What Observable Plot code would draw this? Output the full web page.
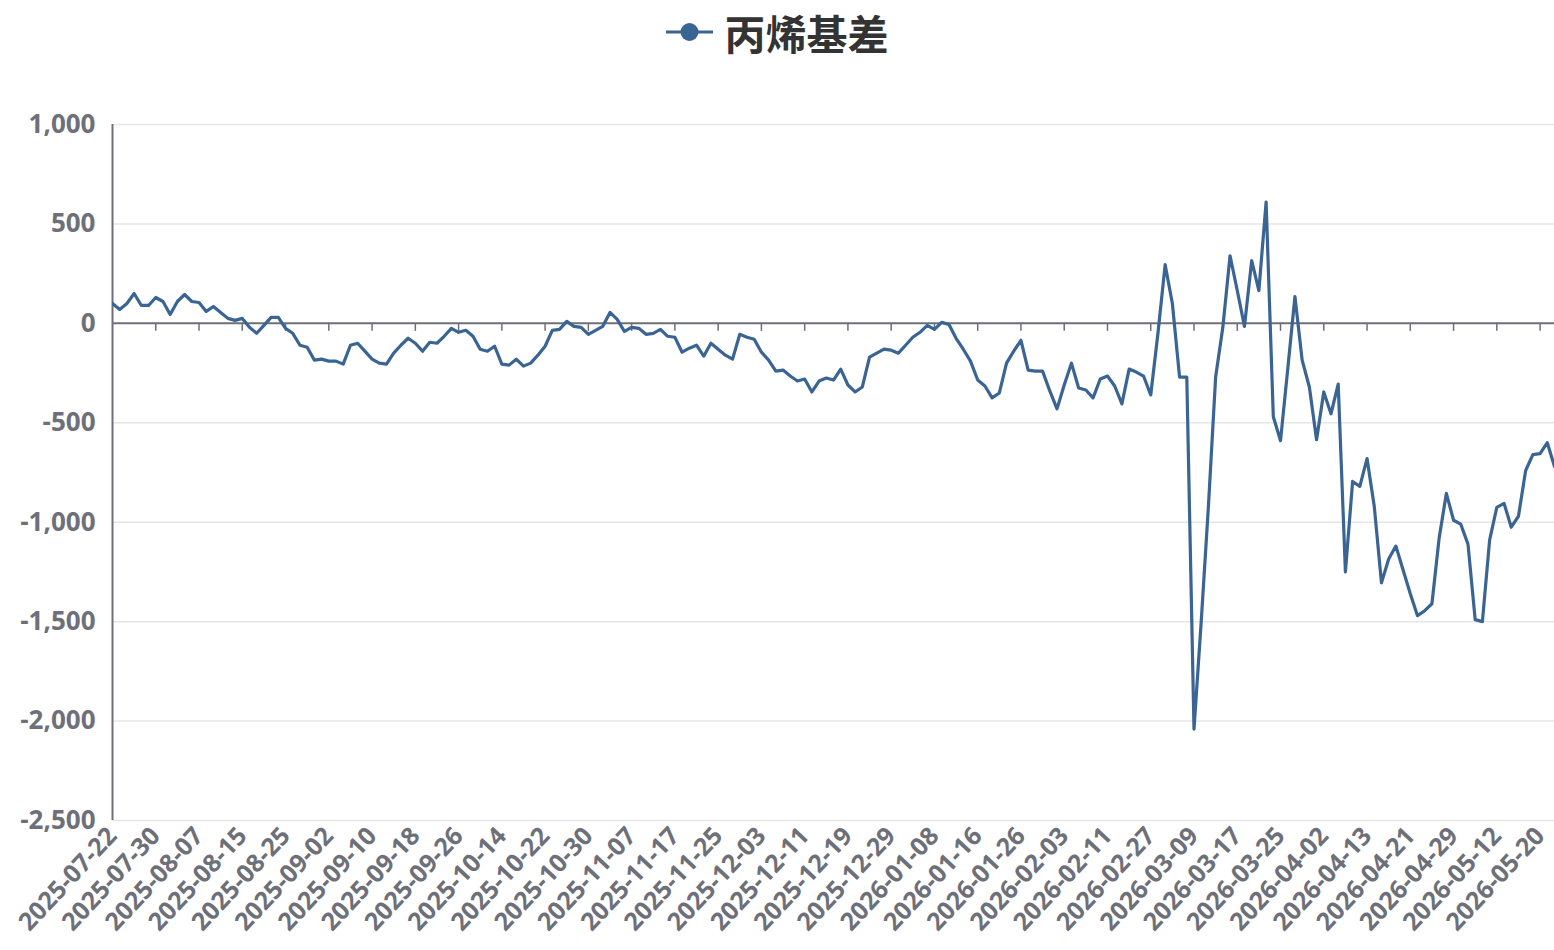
<!DOCTYPE html>
<html><head><meta charset="utf-8">
<script src="https://cdn.jsdelivr.net/npm/d3@7"></script>
<script src="https://cdn.jsdelivr.net/npm/@observablehq/plot@0.6"></script>
<style>
body{margin:0;background:#fff;}
#legend{height:64px;display:flex;align-items:center;justify-content:center;gap:12px;font-family:"Noto Sans CJK SC",sans-serif;font-size:41px;font-weight:700;color:#333;}
#legend span{line-height:1;}
</style></head><body>
<div id="legend"><svg width="47" height="20"><line x1="0" y1="10" x2="47" y2="10" stroke="#3a6494" stroke-width="3"/><circle cx="23.5" cy="10" r="9" fill="#3a6494"/></svg><span>丙烯基差</span></div>
<div id="chart"></div>
<script>
const seriesName = "丙烯基差";
const dates = [
"2025-07-22","2025-07-23","2025-07-24","2025-07-25","2025-07-28","2025-07-29","2025-07-30","2025-07-31",
"2025-08-01","2025-08-04","2025-08-05","2025-08-06","2025-08-07","2025-08-08","2025-08-11","2025-08-12","2025-08-13","2025-08-14","2025-08-15","2025-08-18","2025-08-19","2025-08-20","2025-08-21","2025-08-22","2025-08-25","2025-08-26","2025-08-27","2025-08-28","2025-08-29",
"2025-09-01","2025-09-02","2025-09-03","2025-09-04","2025-09-05","2025-09-08","2025-09-09","2025-09-10","2025-09-11","2025-09-12","2025-09-15","2025-09-16","2025-09-17","2025-09-18","2025-09-19","2025-09-22","2025-09-23","2025-09-24","2025-09-25","2025-09-26","2025-09-29","2025-09-30",
"2025-10-09","2025-10-10","2025-10-13","2025-10-14","2025-10-15","2025-10-16","2025-10-17","2025-10-20","2025-10-21","2025-10-22","2025-10-23","2025-10-24","2025-10-27","2025-10-28","2025-10-29","2025-10-30","2025-10-31",
"2025-11-03","2025-11-04","2025-11-05","2025-11-06","2025-11-07","2025-11-10","2025-11-11","2025-11-12","2025-11-13","2025-11-14","2025-11-17","2025-11-18","2025-11-19","2025-11-20","2025-11-21","2025-11-24","2025-11-25","2025-11-26","2025-11-27","2025-11-28",
"2025-12-01","2025-12-02","2025-12-03","2025-12-04","2025-12-05","2025-12-08","2025-12-09","2025-12-10","2025-12-11","2025-12-12","2025-12-15","2025-12-16","2025-12-17","2025-12-18","2025-12-19","2025-12-22","2025-12-23","2025-12-24","2025-12-25","2025-12-26","2025-12-29","2025-12-30","2025-12-31",
"2026-01-05","2026-01-06","2026-01-07","2026-01-08","2026-01-09","2026-01-12","2026-01-13","2026-01-14","2026-01-15","2026-01-16","2026-01-19","2026-01-20","2026-01-21","2026-01-22","2026-01-23","2026-01-26","2026-01-27","2026-01-28","2026-01-29","2026-01-30",
"2026-02-02","2026-02-03","2026-02-04","2026-02-05","2026-02-06","2026-02-09","2026-02-10","2026-02-11","2026-02-12","2026-02-13","2026-02-24","2026-02-25","2026-02-26","2026-02-27",
"2026-03-02","2026-03-03","2026-03-04","2026-03-05","2026-03-06","2026-03-09","2026-03-10","2026-03-11","2026-03-12","2026-03-13","2026-03-16","2026-03-17","2026-03-18","2026-03-19","2026-03-20","2026-03-23","2026-03-24","2026-03-25","2026-03-26","2026-03-27","2026-03-30","2026-03-31",
"2026-04-01","2026-04-02","2026-04-03","2026-04-07","2026-04-08","2026-04-09","2026-04-10","2026-04-13","2026-04-14","2026-04-15","2026-04-16","2026-04-17","2026-04-20","2026-04-21","2026-04-22","2026-04-23","2026-04-24","2026-04-27","2026-04-28","2026-04-29","2026-04-30",
"2026-05-06","2026-05-07","2026-05-08","2026-05-11","2026-05-12","2026-05-13","2026-05-14","2026-05-15","2026-05-18","2026-05-19","2026-05-20","2026-05-21","2026-05-22"
];
const values = [
100,70,100,150,90,90,130,110,45,110,145,110,105,60,85,55,25,15,25,-20,
-50,-10,30,30,-25,-50,-110,-120,-185,-180,-190,-190,-205,-110,-100,-140,-180,-200,-205,-150,
-110,-75,-100,-140,-95,-100,-65,-25,-45,-35,-65,-130,-140,-115,-205,-210,-180,-215,-200,-160,
-115,-35,-30,10,-15,-20,-55,-35,-15,55,20,-40,-20,-25,-55,-50,-30,-65,-70,-145,
-125,-110,-165,-100,-130,-160,-180,-55,-70,-80,-145,-185,-240,-235,-265,-290,-280,-345,-290,-275,
-285,-230,-310,-345,-320,-170,-150,-130,-135,-150,-110,-70,-45,-10,-30,5,-5,-75,-130,-190,
-285,-315,-375,-350,-200,-140,-85,-235,-240,-240,-340,-430,-310,-200,-325,-335,-375,-280,-265,-315,
-405,-230,-245,-265,-360,-50,295,100,-270,-270,-2040,-1500,-920,-270,-20,340,165,-15,315,165,
610,-470,-590,-230,135,-185,-320,-585,-345,-455,-305,-1250,-795,-820,-680,-920,-1305,-1185,-1120,-1240,
-1360,-1470,-1445,-1410,-1080,-855,-990,-1010,-1110,-1490,-1500,-1090,-925,-905,-1025,-970,-740,-660,-655,-600,
-720
];
const tickLabels = [
"2025-07-22","2025-07-30","2025-08-07","2025-08-15","2025-08-25","2025-09-02","2025-09-10","2025-09-18","2025-09-26","2025-10-14","2025-10-22","2025-10-30",
"2025-11-07","2025-11-17","2025-11-25","2025-12-03","2025-12-11","2025-12-19","2025-12-29","2026-01-08","2026-01-16","2026-01-26","2026-02-03","2026-02-11",
"2026-02-27","2026-03-09","2026-03-17","2026-03-25","2026-04-02","2026-04-13","2026-04-21","2026-04-29","2026-05-12","2026-05-20"
];
const yTicks = [1000, 500, 0, -500, -1000, -1500, -2000, -2500];
const gridValues = [1000, 500, -500, -1000, -1500, -2000, -2500];

const data = dates.map((d, i) => ({date: d, value: values[i], series: seriesName}));
const fmt = d => d3.format(",")(d).replace("\u2212", "-");
const lineColor = "#3a6494";
const axisColor = "#6e7079";

const chart = Plot.plot({
  width: 1554, height: 886,
  marginTop: 60, marginBottom: 130, marginLeft: 112, marginRight: 0,
  style: {fontFamily: "'Open Sans', sans-serif", fontWeight: 700, fontSize: "24px", color: axisColor, background: "#fff", overflow: "visible"},
  x: {type: "point", domain: dates, padding: 0, label: null},
  y: {domain: [-2500, 1000], label: null},
  marks: [
    Plot.ruleY(gridValues, {stroke: "#e6e6ea", strokeWidth: 1.5}),
    Plot.ruleY([0], {stroke: axisColor, strokeWidth: 2}),
    Plot.ruleX(tickLabels.slice(1), {x: d => d, y1: 0, y2: 0, insetBottom: -8, stroke: axisColor, strokeWidth: 1.5}),
    Plot.ruleX([dates[0]], {stroke: axisColor, strokeWidth: 2}),
    Plot.axisY({ticks: yTicks, tickFormat: fmt, tickSize: 0, tickPadding: 17, fontSize: 26}),
    Plot.axisX({ticks: tickLabels, tickSize: 0, tickPadding: 11, tickRotate: -47, fontSize: 25}),
    Plot.line(data, {x: "date", y: "value", stroke: lineColor, strokeWidth: 3.2, clip: true})
  ]
});
document.getElementById("chart").appendChild(chart);
</script>
</body></html>
